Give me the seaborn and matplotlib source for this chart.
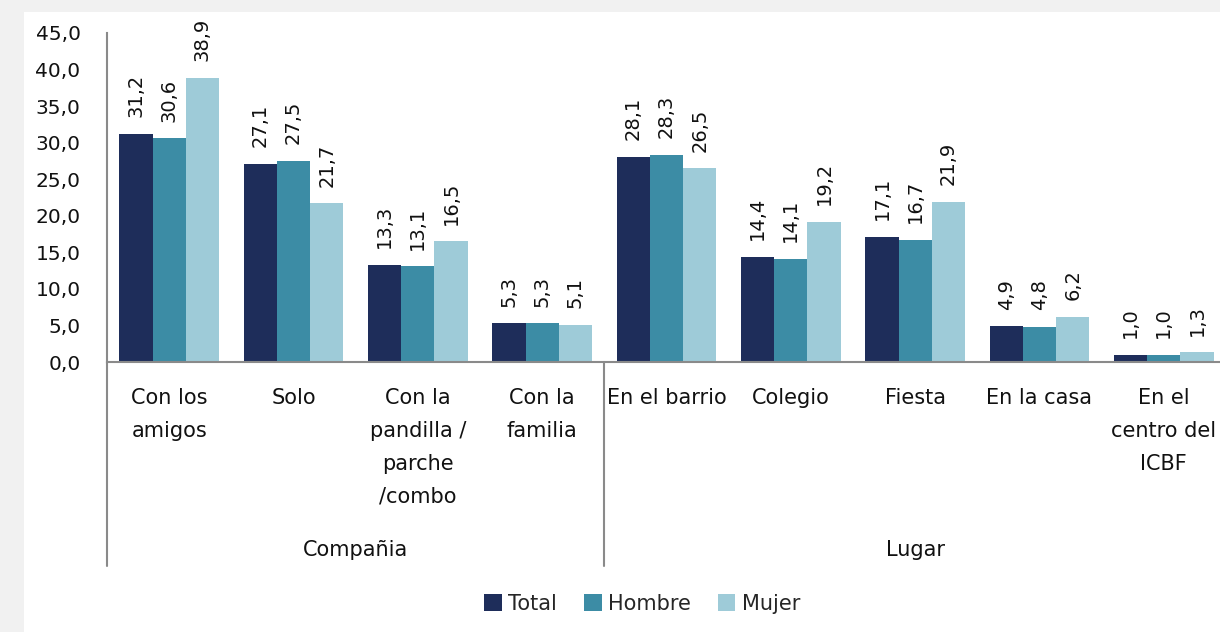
import pandas as pd
import numpy as np
import matplotlib
matplotlib.use('Agg')
import matplotlib.pyplot as plt
from matplotlib.patches import Rectangle
import seaborn as sns

# Data
categories = ['Con los\namigos', 'Solo', 'Con la\npandilla /\nparche\n/combo', 'Con la\nfamilia',
              'En el barrio', 'Colegio', 'Fiesta', 'En la casa', 'En el\ncentro del\nICBF']
total = [31.2, 27.1, 13.3, 5.3, 28.1, 14.4, 17.1, 4.9, 1.0]
hombre = [30.6, 27.5, 13.1, 5.3, 28.3, 14.1, 16.7, 4.8, 1.0]
mujer = [38.9, 21.7, 16.5, 5.1, 26.5, 19.2, 21.9, 6.2, 1.3]
series_names = ['Total', 'Hombre', 'Mujer']
groups = ['Compañia', 'Lugar']
group_sizes = [4, 5]
colors = ['#1e2d5a', '#3c8ca5', '#9ecbd8']

df = pd.DataFrame({
    'categoria': categories * 3,
    'serie': np.repeat(series_names, len(categories)),
    'valor': total + hombre + mujer,
})

sns.set_style('white')
plt.rcParams['font.family'] = ['DejaVu Sans']

fig = plt.figure(figsize=(12.2, 6.32), dpi=100)
fig.patch.set_facecolor('#f1f1f1')
fig.patches.append(Rectangle((24 / 1220, 0), 1, 1 - 12 / 632, transform=fig.transFigure,
                             facecolor='white', edgecolor='none', zorder=-1))

ax = fig.add_axes([107 / 1220, 1 - 362 / 632, 1119 / 1220, 329 / 632])
ax.set_facecolor('none')

sns.barplot(data=df, x='categoria', y='valor', hue='serie', palette=colors,
            order=categories, hue_order=series_names, width=0.8, saturation=1,
            linewidth=0, ax=ax, legend=True)

ax.set_xlim(-0.5, len(categories) - 0.5)
ax.set_ylim(0, 45)
ax.set_yticks(np.arange(0, 46, 5))
ax.set_yticklabels([f'{v:.1f}'.replace('.', ',') for v in np.arange(0, 46, 5)], fontsize=14.5)
ax.set_xlabel('')
ax.set_ylabel('')
ax.tick_params(axis='y', length=0, pad=19, colors='#111111')
ax.tick_params(axis='x', length=0, pad=19, colors='#111111')
for lab in ax.get_xticklabels():
    lab.set_fontsize(15)
    lab.set_linespacing(1.79)
    lab.set_verticalalignment('top')

sns.despine(ax=ax, top=True, right=True)
for s in ['left', 'bottom']:
    ax.spines[s].set_color('#8a8a8a')
    ax.spines[s].set_linewidth(1.5)

# value labels
for cont in ax.containers:
    labels = [f'{b.get_height():.1f}'.replace('.', ',') for b in cont]
    ax.bar_label(cont, labels=labels, rotation=90, padding=12, fontsize=14, color='#111111')

# group separators and group labels
trans = ax.get_xaxis_transform()
depth = -(566 - 362) / 329
start = -0.5
for g, n in zip(groups, group_sizes):
    ax.plot([start, start], [0, depth], transform=trans, color='#8a8a8a', lw=1.5, clip_on=False)
    ax.text(start + n / 2, -(550 - 362) / 329, g, transform=trans, ha='center', va='center',
            fontsize=15, color='#111111')
    start += n

# legend
handles, labels = ax.get_legend_handles_labels()
ax.get_legend().remove()
fig.legend(handles, labels, loc='center', bbox_to_anchor=(642 / 1220, 1 - 604 / 632), ncol=3,
           frameon=False, fontsize=15, handlelength=0.85, handleheight=0.85,
           handletextpad=0.3, columnspacing=1.3)

fig.savefig('out.png', dpi=100)
